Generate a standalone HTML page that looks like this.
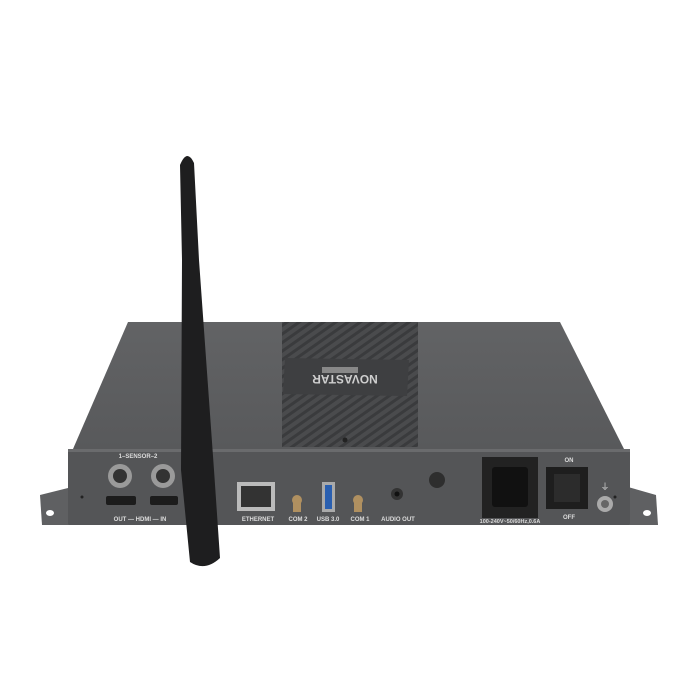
<!DOCTYPE html>
<html><head><style>html,body{margin:0;padding:0;background:#fff;width:700px;height:700px;overflow:hidden}</style></head>
<body>
<svg width="700" height="700" viewBox="0 0 700 700" xmlns="http://www.w3.org/2000/svg" font-family="Liberation Sans, sans-serif">
<defs>
<pattern id="st" width="7" height="7" patternUnits="userSpaceOnUse" patternTransform="rotate(-35)">
<rect width="7" height="7" fill="#4a4b4d"/><rect width="7" height="3" fill="#3a3b3d"/>
</pattern>
<linearGradient id="top" x1="0" y1="0" x2="0" y2="1"><stop offset="0" stop-color="#626365"/><stop offset="1" stop-color="#58595b"/></linearGradient>
</defs>
<!-- flanges -->
<polygon points="40,495 72,487 72,525 42,525" fill="#5f6062"/>
<polygon points="628,487 656,495 658,525 628,525" fill="#5f6062"/>
<ellipse cx="50" cy="513" rx="4" ry="3" fill="#fff"/>
<ellipse cx="647" cy="513" rx="4" ry="3" fill="#fff"/>
<!-- top surface -->
<polygon points="128,322 560,322 624,449 73,449" fill="url(#top)"/>
<polygon points="282,322 418,322 418,447 282,447" fill="url(#st)"/>
<polygon points="285,358 409,360 407,396 283,394" fill="#3e3f41"/>
<text x="345" y="383" font-size="12" font-weight="bold" fill="#cfcfcf" text-anchor="middle" transform="rotate(180 345 379)">NOVASTAR</text>
<rect x="322" y="367" width="36" height="6" fill="#888"/>
<circle cx="345" cy="440" r="2.5" fill="#222"/>
<!-- front panel -->
<rect x="68" y="449" width="562" height="76" rx="2" fill="#545557"/>
<rect x="68" y="449" width="562" height="3" fill="#6a6b6d"/>
<circle cx="82" cy="497" r="1.5" fill="#222"/><circle cx="615" cy="497" r="1.5" fill="#222"/>
<text x="138" y="458" font-size="6" fill="#ddd" text-anchor="middle" font-weight="bold">1–SENSOR–2</text>
<circle cx="120" cy="476" r="12" fill="#9a9a9a"/><circle cx="120" cy="476" r="7" fill="#333"/>
<circle cx="163" cy="476" r="12" fill="#9a9a9a"/><circle cx="163" cy="476" r="7" fill="#333"/>
<rect x="106" y="496" width="30" height="9" rx="2" fill="#1c1c1c"/>
<rect x="150" y="496" width="28" height="9" rx="2" fill="#1c1c1c"/>
<text x="140" y="521" font-size="6" fill="#ddd" text-anchor="middle" font-weight="bold">OUT — HDMI — IN</text>
<rect x="237" y="482" width="38" height="29" fill="#bbb"/><rect x="241" y="486" width="30" height="21" fill="#333"/>
<text x="258" y="521" font-size="6" fill="#ddd" text-anchor="middle" font-weight="bold">ETHERNET</text>
<circle cx="297" cy="500" r="5" fill="#b09060"/><rect x="293" y="500" width="8" height="12" fill="#b09060"/>
<text x="298" y="521" font-size="6" fill="#ddd" text-anchor="middle" font-weight="bold">COM 2</text>
<rect x="322" y="482" width="13" height="30" fill="#aaa"/><rect x="325" y="485" width="7" height="24" fill="#2a5fb0"/>
<text x="328" y="521" font-size="6" fill="#ddd" text-anchor="middle" font-weight="bold">USB 3.0</text>
<circle cx="358" cy="500" r="5" fill="#b09060"/><rect x="354" y="500" width="8" height="12" fill="#b09060"/>
<text x="360" y="521" font-size="6" fill="#ddd" text-anchor="middle" font-weight="bold">COM 1</text>
<circle cx="397" cy="494" r="6" fill="#333"/><circle cx="397" cy="494" r="2.5" fill="#111"/>
<text x="398" y="521" font-size="6" fill="#ddd" text-anchor="middle" font-weight="bold">AUDIO OUT</text>
<circle cx="437" cy="480" r="8" fill="#2e2e2e"/>
<rect x="482" y="457" width="56" height="61" fill="#222"/>
<rect x="492" y="467" width="36" height="40" rx="3" fill="#111"/>
<text x="510" y="523" font-size="5.5" fill="#ddd" text-anchor="middle" font-weight="bold">100-240V~50/60Hz,0.6A</text>
<text x="569" y="462" font-size="6" fill="#ddd" text-anchor="middle" font-weight="bold">ON</text>
<rect x="546" y="467" width="42" height="42" fill="#1e1e1e"/><rect x="554" y="474" width="26" height="28" fill="#2c2c2c"/>
<text x="569" y="519" font-size="6" fill="#ddd" text-anchor="middle" font-weight="bold">OFF</text>
<text x="605" y="490" font-size="9" fill="#ddd" text-anchor="middle">⏚</text>
<circle cx="605" cy="504" r="8" fill="#aaa"/><circle cx="605" cy="504" r="4" fill="#666"/>
<!-- antenna -->
<path d="M180,165 Q187,148 194,163 L199,260 L214,470 L220,558 Q205,572 190,562 L181,470 L182,260 Z" fill="#1e1e1f"/>
</svg>
</body></html>
